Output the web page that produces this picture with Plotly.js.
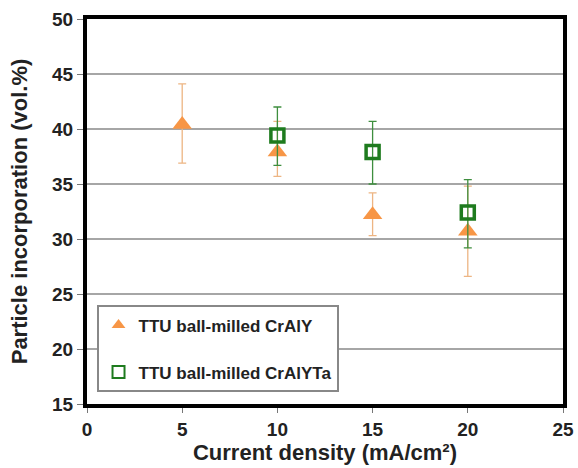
<!DOCTYPE html>
<html><head><meta charset="utf-8">
<script src="https://cdn.plot.ly/plotly-3.0.1.min.js"></script>
<style>html,body{margin:0;padding:0;background:#fff}#c{width:578px;height:468px}</style>
</head><body><div id="c"></div>
<script>
const xCrAlY = [5, 10, 15, 20];
const yCrAlY = [40.4, 37.9, 32.2, 30.7];
const errUpCrAlY = [3.7, 2.8, 2.0, 4.1];
const errDownCrAlY = [3.5, 2.2, 1.9, 4.1];

const xCrAlYTa = [10, 15, 20];
const yCrAlYTa = [39.4, 37.9, 32.4];
const errUpCrAlYTa = [2.6, 2.8, 3.0];
const errDownCrAlYTa = [2.7, 2.9, 3.2];

const traces = [
  {x: xCrAlY, y: yCrAlY, type: 'scatter', mode: 'markers', name: 'TTU ball-milled CrAlY',
   legendgroup: 'a',
   marker: {symbol: 'triangle-up', size: 17, color: '#F79646'},
   error_y: {type: 'data', array: errUpCrAlY, arrayminus: errDownCrAlY, color: '#EDB583', thickness: 1.3, width: 4}},
  {x: xCrAlYTa, y: yCrAlYTa, type: 'scatter', mode: 'markers', name: 'TTU ball-milled CrAlYTa',
   legendgroup: 'b',
   marker: {symbol: 'square-open', size: 13, color: '#1E7B1E', line: {width: 3.5, color: '#1E7B1E'}},
   error_y: {type: 'data', array: errUpCrAlYTa, arrayminus: errDownCrAlYTa, color: '#3E8E3E', thickness: 1.3, width: 4}}
];

const layout = {
  width: 578, height: 468,
  margin: {l: 87, r: 15, t: 19, b: 64},
  paper_bgcolor: '#fff', plot_bgcolor: '#fff',
  font: {family: 'Liberation Sans, Arial, sans-serif', color: '#222'},
  showlegend: true,
  legend: {x: 0.02, y: 0.03, xanchor: 'left', yanchor: 'bottom', bgcolor: '#fff',
    bordercolor: '#888', borderwidth: 2, tracegroupgap: 22, itemsizing: 'constant',
    font: {size: 17, family: 'Liberation Sans, Arial, sans-serif', weight: 'bold', color: '#222'}},
  xaxis: {range: [0, 25], dtick: 5, tick0: 0, showgrid: false, zeroline: false,
    showline: true, mirror: true, linecolor: '#000', linewidth: 4,
    ticks: 'outside', ticklen: 5, tickcolor: '#777',
    tickfont: {size: 19, weight: 'bold', color: '#222'},
    title: {text: 'Current density (mA/cm²)', font: {size: 22, weight: 'bold', color: '#222'}, standoff: 5}},
  yaxis: {range: [15, 50], dtick: 5, tick0: 15, showgrid: true, gridcolor: '#A6A6A6', gridwidth: 1.2,
    zeroline: false, showline: true, mirror: true, linecolor: '#000', linewidth: 4,
    ticks: 'outside', ticklen: 6, tickcolor: '#777',
    tickfont: {size: 19, weight: 'bold', color: '#222'},
    title: {text: 'Particle incorporation (vol.%)', font: {size: 22, weight: 'bold', color: '#222'}, standoff: 19}}
};
Plotly.newPlot('c', traces, layout, {displayModeBar: false, staticPlot: true});
</script></body></html>
